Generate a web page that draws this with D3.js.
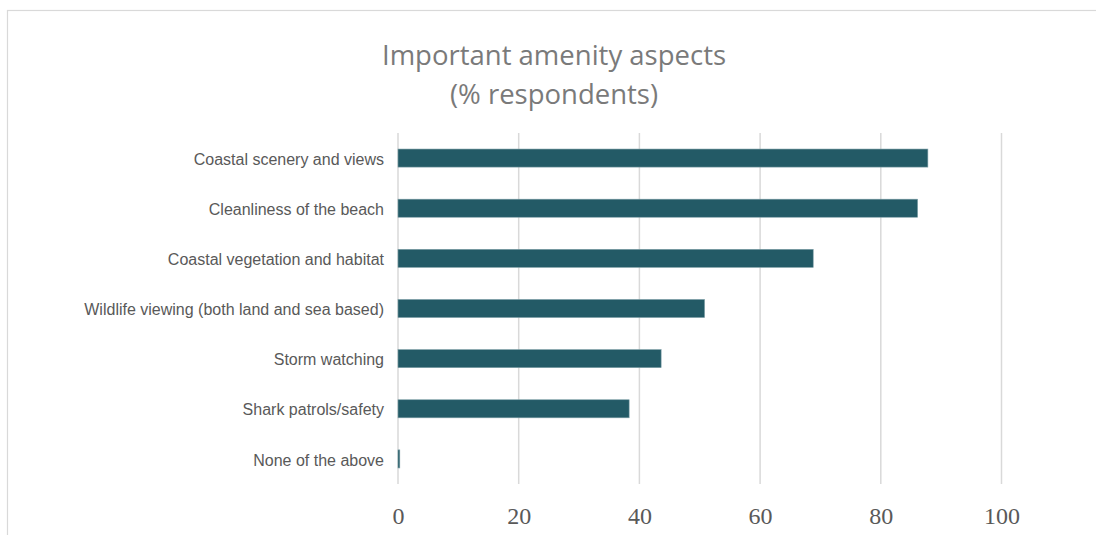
<!DOCTYPE html>
<html>
<head>
<meta charset="utf-8">
<script src="https://cdn.jsdelivr.net/npm/d3@7/dist/d3.min.js"></script>
<style>
  html, body { margin: 0; padding: 0; background: #fff; }
  svg { display: block; }
</style>
</head>
<body>
<svg id="chart" width="1096" height="535"></svg>
<script>
// Survey results: share of respondents naming each amenity aspect as important
const categories = [
  "Coastal scenery and views",
  "Cleanliness of the beach",
  "Coastal vegetation and habitat",
  "Wildlife viewing (both land and sea based)",
  "Storm watching",
  "Shark patrols/safety",
  "None of the above"
];
const values = [87.8, 86.1, 68.8, 50.8, 43.6, 38.3, 0.3];
const xTicks = [0, 20, 40, 60, 80, 100];
const titleLines = ["Important amenity aspects", "(% respondents)"];

const svg = d3.select("#chart");
const W = 1096, H = 535;
const plot = { left: 398, right: 1001.5, top: 133, bottom: 484 };

// Chart frame
svg.append("rect")
  .attr("x", 7.5).attr("y", 10.5)
  .attr("width", W + 20).attr("height", H + 20)
  .attr("fill", "#fff")
  .attr("stroke", "#d9d9d9").attr("stroke-width", 1.2);

const x = d3.scaleLinear().domain([0, 100]).range([plot.left, plot.right]);
const y = d3.scaleBand().domain(categories).range([plot.top, plot.bottom])
  .paddingInner(0.64).paddingOuter(0.32);

// Vertical gridlines
svg.append("g")
  .selectAll("line")
  .data(xTicks)
  .join("line")
  .attr("x1", d => x(d)).attr("x2", d => x(d))
  .attr("y1", plot.top).attr("y2", plot.bottom)
  .attr("stroke", "#d9d9d9").attr("stroke-width", 1.5);

// Bars
svg.append("g")
  .selectAll("rect")
  .data(values)
  .join("rect")
  .attr("x", x(0))
  .attr("y", (d, i) => y(categories[i]))
  .attr("width", d => x(d) - x(0))
  .attr("height", y.bandwidth())
  .attr("fill", "#235a66")
  .attr("stroke", "#7c9ea6").attr("stroke-width", 0.6);

// Category labels
const yAxis = d3.axisLeft(y).tickSize(0).tickPadding(14);
const gy = svg.append("g").attr("transform", `translate(${plot.left},1.5)`).call(yAxis);
gy.select(".domain").remove();
gy.selectAll("text")
  .attr("font-family", "'Liberation Sans', Arial, sans-serif")
  .attr("font-size", 16)
  .attr("fill", "#595959");

// Value axis labels
const xAxis = d3.axisBottom(x).tickValues(xTicks).tickSize(0).tickPadding(0);
const gx = svg.append("g").attr("transform", `translate(0,${plot.bottom})`).call(xAxis);
gx.select(".domain").remove();
gx.selectAll("text")
  .attr("dy", null)
  .attr("y", 40)
  .attr("font-family", "'Liberation Serif', 'DejaVu Serif', serif")
  .attr("font-size", 24)
  .attr("fill", "#595959");

// Title
svg.append("g")
  .selectAll("text")
  .data(titleLines)
  .join("text")
  .attr("x", 554)
  .attr("y", (d, i) => 65 + i * 39)
  .attr("text-anchor", "middle")
  .attr("font-family", "'Open Sans', 'Noto Sans', sans-serif")
  .attr("font-size", 27.5)
  .attr("font-weight", 400)
  .attr("fill", "#7a7a7a")
  .text(d => d);
</script>
</body>
</html>
